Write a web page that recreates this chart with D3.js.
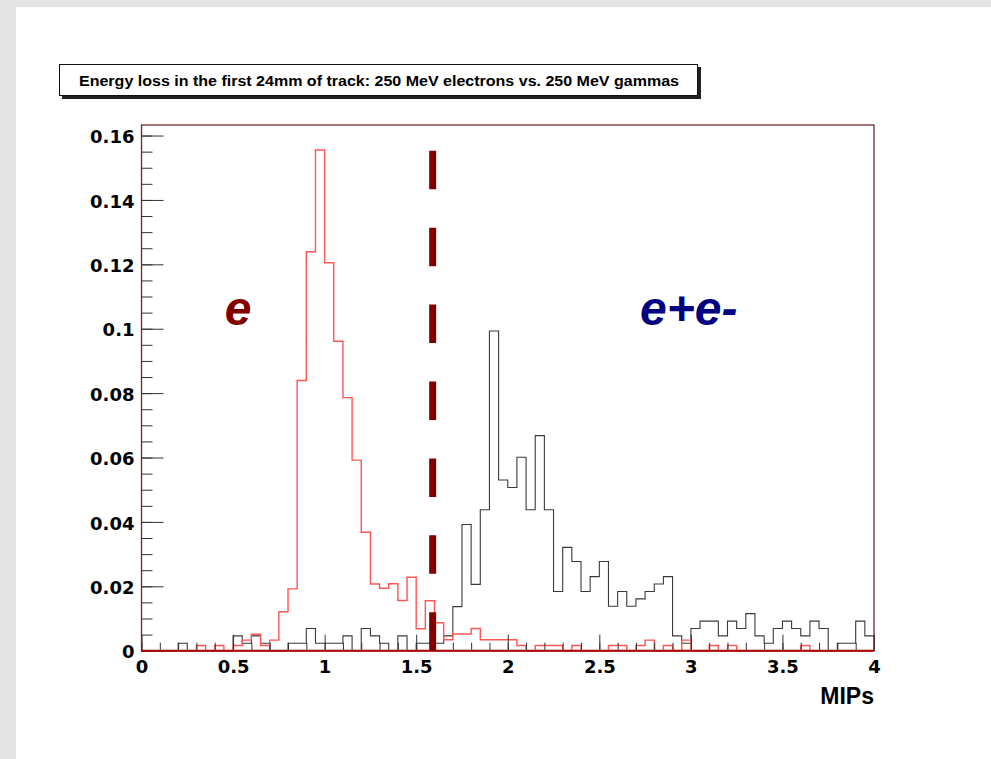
<!DOCTYPE html>
<html>
<head>
<meta charset="utf-8">
<script src="https://cdn.jsdelivr.net/npm/d3@7"></script>
<style>
  body { margin: 0; background: #fff; }
  svg { display: block; }
</style>
</head>
<body>
<div id="chart"></div>
<script>
// histogram: 80 bins of 0.05 MIPs from 0 to 4
const nBins = 80;
const binWidth = 0.05;

// 250 MeV electrons (red)
const electrons = [
  0, 0, 0, 0, 0, 0, 0.0016, 0, 0.0016, 0,
  0.0016, 0.0033, 0.0051, 0.0016, 0.0033, 0.0121, 0.0192, 0.0839, 0.1239, 0.1555,
  0.1205, 0.0961, 0.0786, 0.0592, 0.0368, 0.0207, 0.0194, 0.0208, 0.0156, 0.0228,
  0.0068, 0.0155, 0.0087, 0.0034, 0.0052, 0.0052, 0.0069, 0.0034, 0.0034, 0.0034,
  0.0034, 0.0016, 0, 0.0016, 0.0016, 0.0016, 0, 0.0016, 0, 0,
  0, 0.0016, 0.0016, 0, 0.0016, 0.0033, 0, 0.0016, 0, 0.0033,
  0, 0, 0.0016, 0, 0.0016, 0, 0, 0, 0, 0,
  0, 0, 0.0016, 0, 0, 0, 0, 0, 0, 0
];

// 250 MeV gammas -> e+e- pairs (black)
const gammas = [
  0, 0, 0, 0, 0.0023, 0, 0, 0, 0, 0,
  0.0046, 0.0023, 0.0046, 0.0023, 0, 0, 0.0023, 0.0023, 0.0069, 0.0023,
  0.0023, 0.0023, 0.0046, 0, 0.0069, 0.0046, 0.0023, 0, 0.0046, 0,
  0.0023, 0.0023, 0.0023, 0.0046, 0.0137, 0.0392, 0.0206, 0.0438, 0.0993, 0.0530,
  0.0507, 0.0601, 0.0438, 0.0668, 0.0438, 0.0184, 0.0321, 0.0277, 0.0184, 0.0230,
  0.0277, 0.0138, 0.0184, 0.0138, 0.0161, 0.0184, 0.0207, 0.0230, 0.0046, 0.0023,
  0.0069, 0.0092, 0.0092, 0.0046, 0.0092, 0.0069, 0.0115, 0.0046, 0.0023, 0.0069,
  0.0092, 0.0069, 0.0046, 0.0092, 0.0069, 0, 0.0023, 0.0023, 0.0092, 0.0046
];

const xTicks = [0, 0.5, 1, 1.5, 2, 2.5, 3, 3.5, 4];
const xTickLabels = ["0", "0.5", "1", "1.5", "2", "2.5", "3", "3.5", "4"];
const yTicks = [0, 0.02, 0.04, 0.06, 0.08, 0.1, 0.12, 0.14, 0.16];
const yTickLabels = ["0", "0.02", "0.04", "0.06", "0.08", "0.1", "0.12", "0.14", "0.16"];
const xMinorTicks = d3.range(0, 41).map(i => i / 10);
const yMinorTicks = d3.range(0, 33).map(i => i * 0.005);

const cutValue = 1.59;       // dashed separation line
const title = "Energy loss in the first 24mm of track: 250 MeV electrons vs. 250 MeV gammas";

const width = 991, height = 759;
const frame = { left: 141.5, right: 874, top: 125, bottom: 650.7 };
const yMax = d3.max(electrons) * 1.05;

const svg = d3.select("#chart").append("svg")
    .attr("width", width)
    .attr("height", height);

// page background
svg.append("rect").attr("width", width).attr("height", height).attr("fill", "#e4e4e4");
svg.append("rect").attr("x", 16).attr("y", 7).attr("width", width - 16).attr("height", height - 7).attr("fill", "#fff");

const x = d3.scaleLinear().domain([0, 4]).range([frame.left, frame.right]);
const y = d3.scaleLinear().domain([0, yMax]).range([frame.bottom, frame.top]);

// title pave with shadow
svg.append("rect").attr("x", 62).attr("y", 67).attr("width", 639).attr("height", 32).attr("fill", "#222");
svg.append("rect").attr("x", 59.5).attr("y", 64.5).attr("width", 638).attr("height", 31)
    .attr("fill", "#fff").attr("stroke", "#111").attr("stroke-width", 1);
svg.append("text")
    .attr("x", 379).attr("y", 86)
    .attr("text-anchor", "middle")
    .attr("textLength", 600)
    .attr("lengthAdjust", "spacingAndGlyphs")
    .style("font-family", "'Liberation Sans', Arial, sans-serif")
    .style("font-weight", "bold")
    .style("font-size", "14px")
    .text(title);

// histograms as step outlines
function histPoints(values) {
  const pts = [[0, 0]];
  values.forEach((v, i) => pts.push([i * binWidth, v]));
  pts.push([nBins * binWidth, values[nBins - 1]]);
  pts.push([nBins * binWidth, 0]);
  return pts;
}
const line = d3.line()
    .x(d => x(d[0]))
    .y(d => y(d[1]))
    .curve(d3.curveStepAfter);

const plot = svg.append("g");

plot.append("path")
    .attr("d", line(histPoints(gammas)))
    .attr("fill", "none")
    .attr("stroke", "#3a3a3a")
    .attr("stroke-width", 1.1);

plot.append("path")
    .attr("d", line(histPoints(electrons)))
    .attr("fill", "none")
    .attr("stroke", "#ff5555")
    .attr("stroke-width", 1.4);

// axes (ticks inside the frame, ROOT style)
const yAxis = d3.axisLeft(y)
    .tickValues(yTicks)
    .tickSize(-22)
    .tickPadding(7)
    .tickFormat((d, i) => yTickLabels[i]);
const yMinor = d3.axisLeft(y).tickValues(yMinorTicks).tickSize(-11).tickFormat("");
const xAxis = d3.axisBottom(x)
    .tickValues(xTicks)
    .tickSize(-16)
    .tickPadding(10)
    .tickFormat((d, i) => xTickLabels[i]);
const xMinor = d3.axisBottom(x).tickValues(xMinorTicks).tickSize(-8).tickFormat("");

[
  svg.append("g").attr("transform", `translate(${frame.left},0)`).call(yMinor),
  svg.append("g").attr("transform", `translate(0,${frame.bottom})`).call(xMinor)
].forEach(g => {
  g.select(".domain").remove();
  g.selectAll("line").attr("stroke", "#333").attr("stroke-width", 1);
});

const yg = svg.append("g").attr("transform", `translate(${frame.left},0)`).call(yAxis);
const xg = svg.append("g").attr("transform", `translate(0,${frame.bottom})`).call(xAxis);
[yg, xg].forEach(g => {
  g.select(".domain").remove();
  g.selectAll("line").attr("stroke", "#333").attr("stroke-width", 1);
  g.selectAll("text")
      .attr("fill", "#000")
      .style("font-family", "'DejaVu Sans', sans-serif")
      .style("font-weight", "bold")
      .style("font-size", "18px");
});
yg.selectAll("text").attr("dy", "0.4em");

// frame
svg.append("rect")
    .attr("x", frame.left).attr("y", frame.top)
    .attr("width", frame.right - frame.left)
    .attr("height", frame.bottom - frame.top)
    .attr("fill", "none")
    .attr("stroke", "#6b2a2a")
    .attr("stroke-width", 1.3);
// red baseline from zero bins
svg.append("line")
    .attr("x1", x(0)).attr("x2", x(4))
    .attr("y1", y(0)).attr("y2", y(0))
    .attr("stroke", "#b00000").attr("stroke-width", 2);

// dashed cut line
svg.append("line")
    .attr("x1", x(cutValue)).attr("x2", x(cutValue))
    .attr("y1", y(0)).attr("y2", y(d3.max(electrons)))
    .attr("stroke", "#800000")
    .attr("stroke-width", 7)
    .attr("stroke-dasharray", "38.5,38.4");

// particle labels
svg.append("text")
    .attr("x", 238).attr("y", 325)
    .attr("text-anchor", "middle")
    .attr("fill", "#800000")
    .style("font-family", "'Liberation Sans', Arial, sans-serif")
    .style("font-weight", "bold")
    .style("font-style", "italic")
    .style("font-size", "48px")
    .text("e");
svg.append("text")
    .attr("x", 640).attr("y", 325)
    .attr("fill", "#000080")
    .style("font-family", "'Liberation Sans', Arial, sans-serif")
    .style("font-weight", "bold")
    .style("font-style", "italic")
    .style("font-size", "48px")
    .text("e+e-");

// axis title
svg.append("text")
    .attr("x", frame.right).attr("y", 704)
    .attr("text-anchor", "end")
    .style("font-family", "'Liberation Sans', Arial, sans-serif")
    .style("font-weight", "bold")
    .style("font-size", "23px")
    .text("MIPs");
</script>
</body>
</html>
